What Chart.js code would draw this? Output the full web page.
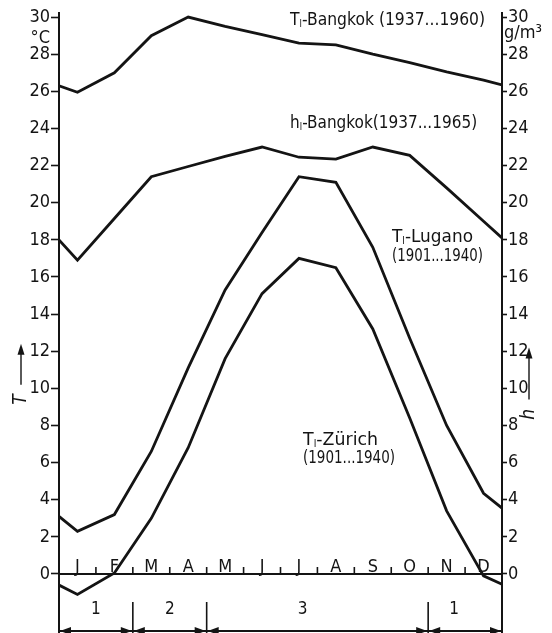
<!DOCTYPE html>
<html>
<head>
<meta charset="utf-8">
<script src="https://cdn.jsdelivr.net/npm/chart.js@4/dist/chart.umd.min.js"></script>
<style>
  html, body { margin: 0; padding: 0; background: #fff; }
</style>
</head>
<body>
<canvas id="chart" width="552" height="633"></canvas>
<script>
// months: first and last point are the year boundary (1 Jan / 31 Dec), the rest are mid-month
const monthPos = [0, 0.5, 1.5, 2.5, 3.5, 4.5, 5.5, 6.5, 7.5, 8.5, 9.5, 10.5, 11.5, 12];
const monthLetters = ["J", "F", "M", "A", "M", "J", "J", "A", "S", "O", "N", "D"];

// air temperature Bangkok (°C)
const tBangkok = [26.3, 25.95, 27.0, 29.0, 30.0, 29.5, 29.05, 28.6, 28.5, 28.0, 27.55, 27.05, 26.6, 26.35];
// absolute humidity Bangkok (g/m3)
const hBangkok = [18.0, 16.9, 19.15, 21.4, 21.95, 22.5, 23.0, 22.45, 22.35, 23.0, 22.55, 20.8, 19.0, 18.1];
// air temperature Lugano (°C)
const tLugano = [3.1, 2.3, 3.2, 6.6, 11.1, 15.3, 18.4, 21.4, 21.1, 17.6, 12.7, 8.0, 4.35, 3.55];
// air temperature Zürich (°C)
const tZurich = [-0.6, -1.1, 0.05, 3.0, 6.8, 11.6, 15.1, 17.0, 16.5, 13.2, 8.4, 3.4, -0.1, -0.55];

const yTicks = [0, 2, 4, 6, 8, 10, 12, 14, 16, 18, 20, 22, 24, 26, 28, 30];

// climate periods under the month axis
const periodBounds = [0, 2, 4, 10, 12];
const periodLabels = ["1", "2", "3", "1"];
const periodLabelAt = [1, 3, 6.6, 10.7];

const FONT = '"DejaVu Sans Condensed", "DejaVu Sans", sans-serif';
const INK = "#141414";

function pts(values) {
  return values.map((v, i) => ({ x: monthPos[i], y: v }));
}

function lineSet(label, values, axis) {
  return {
    label: label,
    data: pts(values),
    yAxisID: axis,
    borderColor: INK,
    borderWidth: 2.8,
    pointRadius: 0,
    tension: 0,
    fill: false
  };
}

// text like "T" + subscript "l" + "-Bangkok ...", squeezed to a width
function drawLabel(ctx, parts, x, y, size, width) {
  ctx.save();
  let w = 0;
  parts.forEach(p => {
    ctx.font = (p.sub ? Math.round(size * 0.55) : size) + "px " + FONT;
    w += ctx.measureText(p.t).width;
  });
  const sx = width ? width / w : 1;
  ctx.translate(x, y);
  ctx.scale(sx, 1);
  ctx.fillStyle = INK;
  ctx.textBaseline = "alphabetic";
  ctx.textAlign = "left";
  let cx = 0;
  parts.forEach(p => {
    ctx.font = (p.sub ? Math.round(size * 0.55) : size) + "px " + FONT;
    ctx.fillText(p.t, cx, p.sub ? size * 0.12 : 0);
    cx += ctx.measureText(p.t).width;
  });
  ctx.restore();
}

function arrowHead(ctx, tipX, tipY, dir, len, half) {
  // dir: "left" | "right" | "up"
  ctx.beginPath();
  ctx.moveTo(tipX, tipY);
  if (dir === "left") { ctx.lineTo(tipX + len, tipY - half); ctx.lineTo(tipX + len, tipY + half); }
  if (dir === "right") { ctx.lineTo(tipX - len, tipY - half); ctx.lineTo(tipX - len, tipY + half); }
  if (dir === "up") { ctx.lineTo(tipX - half, tipY + len); ctx.lineTo(tipX + half, tipY + len); }
  ctx.closePath();
  ctx.fill();
}

const extras = {
  id: "extras",
  afterDraw(chart) {
    const ctx = chart.ctx;
    const xs = chart.scales.x;
    const ys = chart.scales.y;
    const area = chart.chartArea;
    const y0 = ys.getPixelForValue(0);

    ctx.save();
    ctx.strokeStyle = INK;
    ctx.fillStyle = INK;
    ctx.lineWidth = 2;

    // zero line with month boundary marks
    ctx.beginPath();
    ctx.moveTo(area.left, y0);
    ctx.lineTo(area.right, y0);
    ctx.stroke();
    ctx.lineWidth = 1.6;
    for (let m = 1; m < 12; m++) {
      const px = xs.getPixelForValue(m);
      ctx.beginPath();
      ctx.moveTo(px, y0 - 7);
      ctx.lineTo(px, y0);
      ctx.stroke();
    }
    ctx.font = "18px " + FONT;
    ctx.textAlign = "center";
    ctx.textBaseline = "alphabetic";
    monthLetters.forEach((l, i) => {
      ctx.fillText(l, xs.getPixelForValue(i + 0.5), y0 - 2);
    });

    // periods and arrows
    const arrowY = area.bottom - 2;
    ctx.lineWidth = 1.6;
    periodBounds.slice(1, -1).forEach(b => {
      const px = xs.getPixelForValue(b);
      ctx.beginPath();
      ctx.moveTo(px, y0 + 28);
      ctx.lineTo(px, area.bottom);
      ctx.stroke();
    });
    ctx.lineWidth = 2;
    ctx.beginPath();
    ctx.moveTo(area.left, arrowY);
    ctx.lineTo(area.right, arrowY);
    ctx.stroke();
    for (let i = 0; i < periodBounds.length - 1; i++) {
      const a = xs.getPixelForValue(periodBounds[i]);
      const b = xs.getPixelForValue(periodBounds[i + 1]);
      arrowHead(ctx, a + 1, arrowY, "left", 11, 4);
      arrowHead(ctx, b - 1, arrowY, "right", 11, 4);
    }
    ctx.font = "17px " + FONT;
    ctx.textAlign = "center";
    periodLabels.forEach((l, i) => {
      ctx.fillText(l, xs.getPixelForValue(periodLabelAt[i]), y0 + 40);
    });

    // units
    ctx.font = "18px " + FONT;
    ctx.textAlign = "right";
    ctx.fillText("°C", area.left - 9, ys.getPixelForValue(28.6));
    ctx.textAlign = "left";
    ctx.fillText("g/m³", area.right + 2, ys.getPixelForValue(28.9));

    // axis titles: T (left) and h (right), rotated, with arrows
    function axisTitle(txt, cx, cy, arrowTop, arrowBottom) {
      ctx.save();
      ctx.translate(cx, cy);
      ctx.rotate(-Math.PI / 2);
      ctx.font = "italic 19px " + FONT;
      ctx.textAlign = "center";
      ctx.textBaseline = "middle";
      ctx.fillText(txt, 0, 0);
      ctx.restore();
      ctx.lineWidth = 1.4;
      ctx.beginPath();
      ctx.moveTo(cx, arrowBottom);
      ctx.lineTo(cx, arrowTop + 8);
      ctx.stroke();
      arrowHead(ctx, cx, arrowTop, "up", 11, 3.5);
    }
    axisTitle("T", 21, ys.getPixelForValue(9.4), ys.getPixelForValue(12.4), ys.getPixelForValue(10.2));
    axisTitle("h", 529, ys.getPixelForValue(8.6), ys.getPixelForValue(12.2), ys.getPixelForValue(9.4));

    // series labels
    const px = v => xs.getPixelForValue(v);
    const py = v => ys.getPixelForValue(v);
    drawLabel(ctx, [{ t: "T" }, { t: "l", sub: true }, { t: "-Bangkok (1937...1960)" }], px(6.26), py(29.57), 18, 195);
    drawLabel(ctx, [{ t: "h" }, { t: "l", sub: true }, { t: "-Bangkok(1937...1965)" }], px(6.26), py(24.02), 18, 187);
    drawLabel(ctx, [{ t: "T" }, { t: "l", sub: true }, { t: "-Lugano" }], px(9.02), py(17.88), 18, 81);
    drawLabel(ctx, [{ t: "(1901...1940)" }], px(9.02), py(16.85), 18, 91);
    drawLabel(ctx, [{ t: "T" }, { t: "l", sub: true }, { t: "-Zürich" }], px(6.61), py(6.95), 18, 75);
    drawLabel(ctx, [{ t: "(1901...1940)" }], px(6.61), py(5.98), 18, 92);

    ctx.restore();
  }
};

function yAxis(position, width, tickLen) {
  return {
    type: "linear",
    position: position,
    min: -3.18,
    max: 30.22,
    afterBuildTicks: scale => { scale.ticks = yTicks.map(v => ({ value: v })); },
    afterFit: scale => {
      scale.width = width;
      scale.paddingTop = 0;
      scale.paddingBottom = 0;
    },
    grid: {
      drawOnChartArea: false,
      drawTicks: true,
      tickLength: tickLen,
      tickWidth: 1.6,
      tickColor: INK
    },
    border: { display: true, color: INK, width: 2 },
    ticks: {
      color: INK,
      padding: 1,
      font: { family: FONT, size: 18 }
    }
  };
}

new Chart(document.getElementById("chart"), {
  type: "line",
  data: {
    datasets: [
      lineSet("T Bangkok", tBangkok, "y"),
      lineSet("h Bangkok", hBangkok, "y2"),
      lineSet("T Lugano", tLugano, "y"),
      lineSet("T Zürich", tZurich, "y")
    ]
  },
  options: {
    responsive: false,
    animation: false,
    devicePixelRatio: 1,
    layout: { padding: { top: 13, bottom: 0, left: 0, right: 0 } },
    plugins: { legend: { display: false }, tooltip: { enabled: false } },
    scales: {
      x: { type: "linear", min: 0, max: 12, display: false },
      y: yAxis("left", 59, 8),
      y2: yAxis("right", 50, 5)
    }
  },
  plugins: [extras]
});
</script>
</body>
</html>
